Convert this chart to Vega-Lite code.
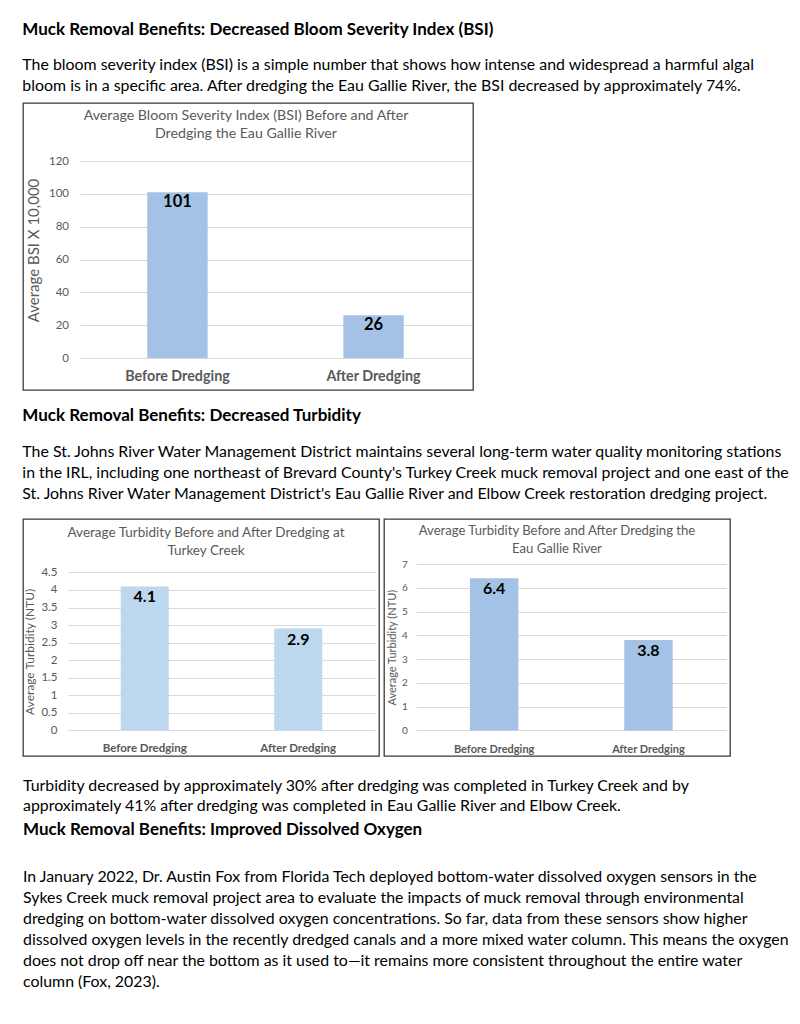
{
  "$schema": "https://vega.github.io/schema/vega-lite/v6.json",
  "background": "white",
  "padding": {"left": 22, "top": 20, "right": 5, "bottom": 5},
  "config": {
    "font": "Lato",
    "view": {"stroke": null},
    "axis": {"labelFont": "Lato", "titleFont": "Lato", "labelColor": "#595959", "titleColor": "#595959", "domain": false, "ticks": false, "gridColor": "#d9d9d9", "gridWidth": 1, "titleFontWeight": "normal"},
    "title": {"font": "Lato", "subtitleFont": "Lato", "color": "#000000", "subtitleColor": "#000000"}
  },
  "spacing": 20,
  "vconcat": [
    {
      "spacing": 16,
      "vconcat": [
        {
          "title": {
            "text": "Muck Removal Benefits: Decreased Bloom Severity Index (BSI)",
            "subtitle": [
              "The bloom severity index (BSI) is a simple number that shows how intense and widespread a harmful algal",
              "bloom is in a specific area. After dredging the Eau Gallie River, the BSI decreased by approximately 74%."
            ],
            "anchor": "start", "frame": "bounds", "fontSize": 17, "fontWeight": "bold",
            "subtitleFontSize": 15.9, "subtitleLineHeight": 21, "subtitlePadding": 18.2, "offset": 7.3
          },
          "vconcat": [
            {
              "width": 450, "height": 287,
              "view": {"stroke": "#3a3a3a", "strokeWidth": 1.3},
              "title": {
                "text": ["Average Bloom Severity Index (BSI) Before and After", "Dredging the Eau Gallie River"],
                "anchor": "middle", "frame": "group", "offset": -38.3, "fontSize": 14.2, "fontWeight": "normal",
                "color": "#595959", "lineHeight": 18.5, "dx": -2
              },
              "data": {"values": [
                {"period": "Before Dredging", "bsi": 101},
                {"period": "After Dredging", "bsi": 26}
              ]},
              "encoding": {
                "x": {"field": "period", "type": "nominal", "sort": null,
                  "scale": {"range": [57, 448], "paddingInner": 0.692, "paddingOuter": 0.343},
                  "axis": {"title": null, "labelAngle": 0, "labelFontWeight": "bold", "labelFontSize": 14.3, "offset": -32, "labelPadding": 11.5}},
                "y": {"field": "bsi", "type": "quantitative",
                  "scale": {"domain": [0, 120], "range": [255, 58], "nice": false, "zero": true},
                  "axis": {"title": "Average BSI X 10,000", "values": [0, 20, 40, 60, 80, 100, 120], "grid": true, "offset": -57, "labelPadding": 11.5, "labelFontSize": 11.5, "titleFontSize": 15, "titlePadding": 7, "titleY": 147}}
              },
              "layer": [
                {"mark": {"type": "bar", "color": "#a4c2e5"}},
                {"mark": {"type": "text", "baseline": "middle", "dy": 10, "fontSize": 16.5, "fontWeight": "bold", "color": "#000000"},
                 "encoding": {"text": {"field": "bsi", "type": "quantitative"}}}
              ]
            }
          ]
        },
        {
          "title": {
            "text": "Muck Removal Benefits: Decreased Turbidity",
            "subtitle": [
              "The St. Johns River Water Management District maintains several long-term water quality monitoring stations",
              "in the IRL, including one northeast of Brevard County's Turkey Creek muck removal project and one east of the",
              "St. Johns River Water Management District's Eau Gallie River and Elbow Creek restoration dredging project."
            ],
            "anchor": "start", "frame": "bounds", "fontSize": 17, "fontWeight": "bold",
            "subtitleFontSize": 15.9, "subtitleLineHeight": 21, "subtitlePadding": 18.7, "offset": 15.6
          },
          "spacing": 3,
          "hconcat": [
            {
              "width": 356, "height": 237,
              "view": {"stroke": "#3a3a3a", "strokeWidth": 1.3},
              "title": {
                "text": ["Average Turbidity Before and After Dredging at", "Turkey Creek"],
                "anchor": "middle", "frame": "group", "offset": -38.6, "fontSize": 13.5, "fontWeight": "normal",
                "color": "#595959", "lineHeight": 18.3, "dx": 5
              },
              "data": {"values": [
                {"period": "Before Dredging", "ntu": 4.1},
                {"period": "After Dredging", "ntu": 2.9}
              ]},
              "encoding": {
                "x": {"field": "period", "type": "nominal", "sort": null,
                  "scale": {"range": [45, 352], "paddingInner": 0.687, "paddingOuter": 0.3435},
                  "axis": {"title": null, "labelAngle": 0, "labelFontWeight": "bold", "labelFontSize": 11.5, "offset": -26, "labelPadding": 12.5}},
                "y": {"field": "ntu", "type": "quantitative",
                  "scale": {"domain": [0, 4.5], "range": [211.4, 53.4], "nice": false, "zero": true},
                  "axis": {"title": "Average Turbidity (NTU)", "values": [0, 0.5, 1, 1.5, 2, 2.5, 3, 3.5, 4, 4.5], "format": "~g", "grid": true, "offset": -45, "labelPadding": 11, "labelFontSize": 11.5, "titleFontSize": 12, "titlePadding": 4}}
              },
              "layer": [
                {"mark": {"type": "bar", "color": "#bdd7ee"}},
                {"mark": {"type": "text", "baseline": "middle", "dy": 11, "fontSize": 16, "fontWeight": "bold", "color": "#000000"},
                 "encoding": {"text": {"field": "ntu", "type": "quantitative"}}}
              ]
            },
            {
              "width": 346, "height": 237,
              "view": {"stroke": "#3a3a3a", "strokeWidth": 1.3},
              "title": {
                "text": ["Average Turbidity Before and After Dredging the", "Eau Gallie River"],
                "anchor": "middle", "frame": "group", "offset": -37.5, "fontSize": 13.1, "fontWeight": "normal",
                "color": "#595959", "lineHeight": 18
              },
              "data": {"values": [
                {"period": "Before Dredging", "ntu": 6.4},
                {"period": "After Dredging", "ntu": 3.8}
              ]},
              "encoding": {
                "x": {"field": "period", "type": "nominal", "sort": null,
                  "scale": {"range": [32.3, 342.3], "paddingInner": 0.686, "paddingOuter": 0.3475},
                  "axis": {"title": null, "labelAngle": 0, "labelFontWeight": "bold", "labelFontSize": 11, "offset": -26, "labelPadding": 13.5}},
                "y": {"field": "ntu", "type": "quantitative",
                  "scale": {"domain": [0, 7], "range": [211.4, 45], "nice": false, "zero": true},
                  "axis": {"title": "Average Turbidity (NTU)", "values": [0, 1, 2, 3, 4, 5, 6, 7], "grid": true, "offset": -32.3, "labelPadding": 9, "labelFontSize": 10, "titleFontSize": 11, "titlePadding": 3.6}}
              },
              "layer": [
                {"mark": {"type": "bar", "color": "#a4c2e5"}},
                {"mark": {"type": "text", "baseline": "middle", "dy": 11, "fontSize": 16, "fontWeight": "bold", "color": "#000000"},
                 "encoding": {"text": {"field": "ntu", "type": "quantitative"}}}
              ]
            }
          ]
        }
      ]
    },
    {
      "title": {
        "text": [
          "Turbidity decreased by approximately 30% after dredging was completed in Turkey Creek and by",
          "approximately 41% after dredging was completed in Eau Gallie River and Elbow Creek."
        ],
        "subtitle": "Muck Removal Benefits: Improved Dissolved Oxygen",
        "anchor": "start", "frame": "bounds", "fontSize": 15.9, "fontWeight": "normal", "lineHeight": 20.5,
        "subtitleFontSize": 17, "subtitleFontWeight": "bold", "subtitlePadding": 8.4, "offset": 27.6
      },
      "vconcat": [
        {
          "width": 770, "height": 127,
          "data": {"values": [
            {"line": 1, "text": "In January 2022, Dr. Austin Fox from Florida Tech deployed bottom-water dissolved oxygen sensors in the"},
            {"line": 2, "text": "Sykes Creek muck removal project area to evaluate the impacts of muck removal through environmental"},
            {"line": 3, "text": "dredging on bottom-water dissolved oxygen concentrations. So far, data from these sensors show higher"},
            {"line": 4, "text": "dissolved oxygen levels in the recently dredged canals and a more mixed water column. This means the oxygen"},
            {"line": 5, "text": "does not drop off near the bottom as it used to—it remains more consistent throughout the entire water"},
            {"line": 6, "text": "column (Fox, 2023)."}
          ]},
          "mark": {"type": "text", "align": "left", "baseline": "middle", "fontSize": 15.9, "color": "#000000"},
          "encoding": {
            "x": {"datum": 0, "type": "quantitative", "scale": {"domain": [0, 1]}, "axis": null},
            "y": {"field": "line", "type": "ordinal", "axis": null, "scale": {"paddingInner": 0, "paddingOuter": 0}},
            "text": {"field": "text"}
          }
        }
      ]
    }
  ]
}
